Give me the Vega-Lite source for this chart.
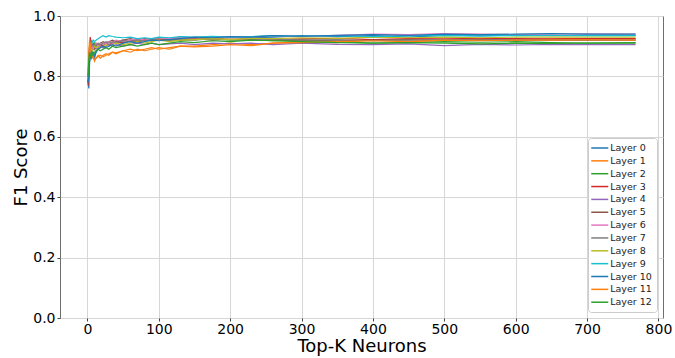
{
"$schema":"https://vega.github.io/schema/vega-lite/v6.json",
"width":603,"height":302,
"autosize":{"type":"none"},
"padding":{"left":60,"top":16,"right":12,"bottom":40},
"config":{"font":"DejaVu Sans","view":{"stroke":"#6e6e6e","strokeWidth":1},
"axis":{"labelFont":"DejaVu Sans","titleFont":"DejaVu Sans","labelFontSize":14,"titleFontSize":18,"titleFontWeight":"normal","labelColor":"#000","titleColor":"#000","gridColor":"#d6d6d6","gridWidth":1,"domain":false,"tickColor":"#444","tickSize":3}},
"data":{"values":[
{"l":0,"k":1,"f":0.79},{"l":0,"k":2,"f":0.76},{"l":0,"k":3,"f":0.84},{"l":0,"k":4,"f":0.88},{"l":0,"k":5,"f":0.86},{"l":0,"k":6,"f":0.89},{"l":0,"k":8,"f":0.87},{"l":0,"k":10,"f":0.86},{"l":0,"k":12,"f":0.88},{"l":0,"k":15,"f":0.89},{"l":0,"k":18,"f":0.9},{"l":0,"k":22,"f":0.895},{"l":0,"k":26,"f":0.9},{"l":0,"k":30,"f":0.905},{"l":0,"k":35,"f":0.91},{"l":0,"k":40,"f":0.915},{"l":0,"k":50,"f":0.91},{"l":0,"k":60,"f":0.92},{"l":0,"k":70,"f":0.915},{"l":0,"k":80,"f":0.92},{"l":0,"k":90,"f":0.925},{"l":0,"k":100,"f":0.92},{"l":0,"k":115,"f":0.925},{"l":0,"k":130,"f":0.93},{"l":0,"k":150,"f":0.928},{"l":0,"k":175,"f":0.93},{"l":0,"k":200,"f":0.932},{"l":0,"k":230,"f":0.928},{"l":0,"k":260,"f":0.93},{"l":0,"k":300,"f":0.935},{"l":0,"k":350,"f":0.932},{"l":0,"k":400,"f":0.935},{"l":0,"k":450,"f":0.93},{"l":0,"k":500,"f":0.936},{"l":0,"k":550,"f":0.934},{"l":0,"k":600,"f":0.937},{"l":0,"k":650,"f":0.935},{"l":0,"k":700,"f":0.936},{"l":0,"k":768,"f":0.936},
{"l":1,"k":1,"f":0.8},{"l":1,"k":2,"f":0.85},{"l":1,"k":3,"f":0.9},{"l":1,"k":4,"f":0.92},{"l":1,"k":5,"f":0.88},{"l":1,"k":6,"f":0.86},{"l":1,"k":8,"f":0.87},{"l":1,"k":10,"f":0.85},{"l":1,"k":12,"f":0.86},{"l":1,"k":15,"f":0.87},{"l":1,"k":18,"f":0.86},{"l":1,"k":22,"f":0.87},{"l":1,"k":26,"f":0.875},{"l":1,"k":30,"f":0.87},{"l":1,"k":35,"f":0.88},{"l":1,"k":40,"f":0.875},{"l":1,"k":50,"f":0.885},{"l":1,"k":60,"f":0.88},{"l":1,"k":70,"f":0.89},{"l":1,"k":80,"f":0.885},{"l":1,"k":90,"f":0.89},{"l":1,"k":100,"f":0.895},{"l":1,"k":115,"f":0.89},{"l":1,"k":130,"f":0.9},{"l":1,"k":150,"f":0.9},{"l":1,"k":175,"f":0.905},{"l":1,"k":200,"f":0.91},{"l":1,"k":230,"f":0.905},{"l":1,"k":260,"f":0.91},{"l":1,"k":300,"f":0.915},{"l":1,"k":350,"f":0.912},{"l":1,"k":400,"f":0.92},{"l":1,"k":450,"f":0.915},{"l":1,"k":500,"f":0.92},{"l":1,"k":550,"f":0.922},{"l":1,"k":600,"f":0.92},{"l":1,"k":650,"f":0.924},{"l":1,"k":700,"f":0.925},{"l":1,"k":768,"f":0.925},
{"l":2,"k":1,"f":0.78},{"l":2,"k":2,"f":0.82},{"l":2,"k":3,"f":0.88},{"l":2,"k":4,"f":0.91},{"l":2,"k":5,"f":0.9},{"l":2,"k":6,"f":0.89},{"l":2,"k":8,"f":0.9},{"l":2,"k":10,"f":0.91},{"l":2,"k":12,"f":0.9},{"l":2,"k":15,"f":0.905},{"l":2,"k":18,"f":0.91},{"l":2,"k":22,"f":0.9},{"l":2,"k":26,"f":0.91},{"l":2,"k":30,"f":0.915},{"l":2,"k":35,"f":0.91},{"l":2,"k":40,"f":0.915},{"l":2,"k":50,"f":0.92},{"l":2,"k":60,"f":0.915},{"l":2,"k":70,"f":0.92},{"l":2,"k":80,"f":0.918},{"l":2,"k":90,"f":0.922},{"l":2,"k":100,"f":0.92},{"l":2,"k":115,"f":0.925},{"l":2,"k":130,"f":0.92},{"l":2,"k":150,"f":0.922},{"l":2,"k":175,"f":0.925},{"l":2,"k":200,"f":0.92},{"l":2,"k":230,"f":0.922},{"l":2,"k":260,"f":0.918},{"l":2,"k":300,"f":0.92},{"l":2,"k":350,"f":0.915},{"l":2,"k":400,"f":0.91},{"l":2,"k":450,"f":0.912},{"l":2,"k":500,"f":0.915},{"l":2,"k":550,"f":0.913},{"l":2,"k":600,"f":0.915},{"l":2,"k":650,"f":0.912},{"l":2,"k":700,"f":0.91},{"l":2,"k":768,"f":0.912},
{"l":3,"k":1,"f":0.77},{"l":3,"k":2,"f":0.84},{"l":3,"k":3,"f":0.9},{"l":3,"k":4,"f":0.93},{"l":3,"k":5,"f":0.91},{"l":3,"k":6,"f":0.9},{"l":3,"k":8,"f":0.89},{"l":3,"k":10,"f":0.9},{"l":3,"k":12,"f":0.91},{"l":3,"k":15,"f":0.9},{"l":3,"k":18,"f":0.9},{"l":3,"k":22,"f":0.905},{"l":3,"k":26,"f":0.91},{"l":3,"k":30,"f":0.905},{"l":3,"k":35,"f":0.91},{"l":3,"k":40,"f":0.915},{"l":3,"k":50,"f":0.912},{"l":3,"k":60,"f":0.918},{"l":3,"k":70,"f":0.915},{"l":3,"k":80,"f":0.92},{"l":3,"k":90,"f":0.918},{"l":3,"k":100,"f":0.922},{"l":3,"k":115,"f":0.92},{"l":3,"k":130,"f":0.925},{"l":3,"k":150,"f":0.922},{"l":3,"k":175,"f":0.925},{"l":3,"k":200,"f":0.923},{"l":3,"k":230,"f":0.925},{"l":3,"k":260,"f":0.922},{"l":3,"k":300,"f":0.924},{"l":3,"k":350,"f":0.926},{"l":3,"k":400,"f":0.922},{"l":3,"k":450,"f":0.925},{"l":3,"k":500,"f":0.924},{"l":3,"k":550,"f":0.926},{"l":3,"k":600,"f":0.925},{"l":3,"k":650,"f":0.924},{"l":3,"k":700,"f":0.925},{"l":3,"k":768,"f":0.925},
{"l":4,"k":1,"f":0.8},{"l":4,"k":2,"f":0.83},{"l":4,"k":3,"f":0.87},{"l":4,"k":4,"f":0.9},{"l":4,"k":5,"f":0.89},{"l":4,"k":6,"f":0.88},{"l":4,"k":8,"f":0.89},{"l":4,"k":10,"f":0.9},{"l":4,"k":12,"f":0.89},{"l":4,"k":15,"f":0.895},{"l":4,"k":18,"f":0.9},{"l":4,"k":22,"f":0.895},{"l":4,"k":26,"f":0.9},{"l":4,"k":30,"f":0.905},{"l":4,"k":35,"f":0.9},{"l":4,"k":40,"f":0.905},{"l":4,"k":50,"f":0.9},{"l":4,"k":60,"f":0.905},{"l":4,"k":70,"f":0.91},{"l":4,"k":80,"f":0.905},{"l":4,"k":90,"f":0.91},{"l":4,"k":100,"f":0.905},{"l":4,"k":115,"f":0.908},{"l":4,"k":130,"f":0.91},{"l":4,"k":150,"f":0.905},{"l":4,"k":175,"f":0.91},{"l":4,"k":200,"f":0.908},{"l":4,"k":230,"f":0.91},{"l":4,"k":260,"f":0.905},{"l":4,"k":300,"f":0.91},{"l":4,"k":350,"f":0.906},{"l":4,"k":400,"f":0.905},{"l":4,"k":450,"f":0.908},{"l":4,"k":500,"f":0.902},{"l":4,"k":550,"f":0.906},{"l":4,"k":600,"f":0.904},{"l":4,"k":650,"f":0.906},{"l":4,"k":700,"f":0.905},{"l":4,"k":768,"f":0.905},
{"l":5,"k":1,"f":0.78},{"l":5,"k":2,"f":0.85},{"l":5,"k":3,"f":0.89},{"l":5,"k":4,"f":0.9},{"l":5,"k":5,"f":0.92},{"l":5,"k":6,"f":0.9},{"l":5,"k":8,"f":0.91},{"l":5,"k":10,"f":0.89},{"l":5,"k":12,"f":0.9},{"l":5,"k":15,"f":0.905},{"l":5,"k":18,"f":0.91},{"l":5,"k":22,"f":0.915},{"l":5,"k":26,"f":0.91},{"l":5,"k":30,"f":0.915},{"l":5,"k":35,"f":0.92},{"l":5,"k":40,"f":0.915},{"l":5,"k":50,"f":0.92},{"l":5,"k":60,"f":0.925},{"l":5,"k":70,"f":0.92},{"l":5,"k":80,"f":0.925},{"l":5,"k":90,"f":0.922},{"l":5,"k":100,"f":0.925},{"l":5,"k":115,"f":0.92},{"l":5,"k":130,"f":0.922},{"l":5,"k":150,"f":0.925},{"l":5,"k":175,"f":0.92},{"l":5,"k":200,"f":0.923},{"l":5,"k":230,"f":0.92},{"l":5,"k":260,"f":0.922},{"l":5,"k":300,"f":0.92},{"l":5,"k":350,"f":0.918},{"l":5,"k":400,"f":0.92},{"l":5,"k":450,"f":0.922},{"l":5,"k":500,"f":0.919},{"l":5,"k":550,"f":0.92},{"l":5,"k":600,"f":0.921},{"l":5,"k":650,"f":0.92},{"l":5,"k":700,"f":0.92},{"l":5,"k":768,"f":0.92},
{"l":6,"k":1,"f":0.79},{"l":6,"k":2,"f":0.83},{"l":6,"k":3,"f":0.88},{"l":6,"k":4,"f":0.9},{"l":6,"k":5,"f":0.91},{"l":6,"k":6,"f":0.89},{"l":6,"k":8,"f":0.9},{"l":6,"k":10,"f":0.9},{"l":6,"k":12,"f":0.91},{"l":6,"k":15,"f":0.9},{"l":6,"k":18,"f":0.91},{"l":6,"k":22,"f":0.905},{"l":6,"k":26,"f":0.91},{"l":6,"k":30,"f":0.915},{"l":6,"k":35,"f":0.91},{"l":6,"k":40,"f":0.92},{"l":6,"k":50,"f":0.915},{"l":6,"k":60,"f":0.92},{"l":6,"k":70,"f":0.925},{"l":6,"k":80,"f":0.92},{"l":6,"k":90,"f":0.925},{"l":6,"k":100,"f":0.928},{"l":6,"k":115,"f":0.925},{"l":6,"k":130,"f":0.93},{"l":6,"k":150,"f":0.928},{"l":6,"k":175,"f":0.93},{"l":6,"k":200,"f":0.932},{"l":6,"k":230,"f":0.93},{"l":6,"k":260,"f":0.935},{"l":6,"k":300,"f":0.932},{"l":6,"k":350,"f":0.936},{"l":6,"k":400,"f":0.94},{"l":6,"k":450,"f":0.938},{"l":6,"k":500,"f":0.942},{"l":6,"k":550,"f":0.94},{"l":6,"k":600,"f":0.938},{"l":6,"k":650,"f":0.94},{"l":6,"k":700,"f":0.941},{"l":6,"k":768,"f":0.94},
{"l":7,"k":1,"f":0.8},{"l":7,"k":2,"f":0.86},{"l":7,"k":3,"f":0.9},{"l":7,"k":4,"f":0.89},{"l":7,"k":5,"f":0.9},{"l":7,"k":6,"f":0.91},{"l":7,"k":8,"f":0.9},{"l":7,"k":10,"f":0.905},{"l":7,"k":12,"f":0.9},{"l":7,"k":15,"f":0.91},{"l":7,"k":18,"f":0.905},{"l":7,"k":22,"f":0.91},{"l":7,"k":26,"f":0.915},{"l":7,"k":30,"f":0.91},{"l":7,"k":35,"f":0.915},{"l":7,"k":40,"f":0.912},{"l":7,"k":50,"f":0.918},{"l":7,"k":60,"f":0.915},{"l":7,"k":70,"f":0.92},{"l":7,"k":80,"f":0.918},{"l":7,"k":90,"f":0.922},{"l":7,"k":100,"f":0.92},{"l":7,"k":115,"f":0.918},{"l":7,"k":130,"f":0.922},{"l":7,"k":150,"f":0.92},{"l":7,"k":175,"f":0.925},{"l":7,"k":200,"f":0.922},{"l":7,"k":230,"f":0.92},{"l":7,"k":260,"f":0.924},{"l":7,"k":300,"f":0.92},{"l":7,"k":350,"f":0.922},{"l":7,"k":400,"f":0.918},{"l":7,"k":450,"f":0.92},{"l":7,"k":500,"f":0.922},{"l":7,"k":550,"f":0.92},{"l":7,"k":600,"f":0.921},{"l":7,"k":650,"f":0.92},{"l":7,"k":700,"f":0.92},{"l":7,"k":768,"f":0.92},
{"l":8,"k":1,"f":0.81},{"l":8,"k":2,"f":0.85},{"l":8,"k":3,"f":0.88},{"l":8,"k":4,"f":0.9},{"l":8,"k":5,"f":0.89},{"l":8,"k":6,"f":0.88},{"l":8,"k":8,"f":0.89},{"l":8,"k":10,"f":0.9},{"l":8,"k":12,"f":0.895},{"l":8,"k":15,"f":0.9},{"l":8,"k":18,"f":0.895},{"l":8,"k":22,"f":0.9},{"l":8,"k":26,"f":0.905},{"l":8,"k":30,"f":0.9},{"l":8,"k":35,"f":0.905},{"l":8,"k":40,"f":0.91},{"l":8,"k":50,"f":0.905},{"l":8,"k":60,"f":0.91},{"l":8,"k":70,"f":0.915},{"l":8,"k":80,"f":0.91},{"l":8,"k":90,"f":0.915},{"l":8,"k":100,"f":0.92},{"l":8,"k":115,"f":0.915},{"l":8,"k":130,"f":0.92},{"l":8,"k":150,"f":0.922},{"l":8,"k":175,"f":0.925},{"l":8,"k":200,"f":0.922},{"l":8,"k":230,"f":0.926},{"l":8,"k":260,"f":0.925},{"l":8,"k":300,"f":0.928},{"l":8,"k":350,"f":0.926},{"l":8,"k":400,"f":0.93},{"l":8,"k":450,"f":0.928},{"l":8,"k":500,"f":0.93},{"l":8,"k":550,"f":0.928},{"l":8,"k":600,"f":0.93},{"l":8,"k":650,"f":0.93},{"l":8,"k":700,"f":0.93},{"l":8,"k":768,"f":0.93},
{"l":9,"k":1,"f":0.79},{"l":9,"k":2,"f":0.84},{"l":9,"k":3,"f":0.87},{"l":9,"k":4,"f":0.89},{"l":9,"k":5,"f":0.9},{"l":9,"k":6,"f":0.91},{"l":9,"k":8,"f":0.92},{"l":9,"k":10,"f":0.915},{"l":9,"k":12,"f":0.92},{"l":9,"k":15,"f":0.925},{"l":9,"k":18,"f":0.93},{"l":9,"k":22,"f":0.935},{"l":9,"k":26,"f":0.93},{"l":9,"k":30,"f":0.935},{"l":9,"k":35,"f":0.932},{"l":9,"k":40,"f":0.93},{"l":9,"k":50,"f":0.928},{"l":9,"k":60,"f":0.93},{"l":9,"k":70,"f":0.925},{"l":9,"k":80,"f":0.928},{"l":9,"k":90,"f":0.925},{"l":9,"k":100,"f":0.93},{"l":9,"k":115,"f":0.928},{"l":9,"k":130,"f":0.932},{"l":9,"k":150,"f":0.93},{"l":9,"k":175,"f":0.933},{"l":9,"k":200,"f":0.93},{"l":9,"k":230,"f":0.932},{"l":9,"k":260,"f":0.935},{"l":9,"k":300,"f":0.933},{"l":9,"k":350,"f":0.935},{"l":9,"k":400,"f":0.932},{"l":9,"k":450,"f":0.934},{"l":9,"k":500,"f":0.936},{"l":9,"k":550,"f":0.934},{"l":9,"k":600,"f":0.935},{"l":9,"k":650,"f":0.936},{"l":9,"k":700,"f":0.935},{"l":9,"k":768,"f":0.935},
{"l":10,"k":1,"f":0.78},{"l":10,"k":2,"f":0.8},{"l":10,"k":3,"f":0.85},{"l":10,"k":4,"f":0.86},{"l":10,"k":5,"f":0.87},{"l":10,"k":6,"f":0.86},{"l":10,"k":8,"f":0.88},{"l":10,"k":10,"f":0.87},{"l":10,"k":12,"f":0.88},{"l":10,"k":15,"f":0.89},{"l":10,"k":18,"f":0.895},{"l":10,"k":22,"f":0.9},{"l":10,"k":26,"f":0.895},{"l":10,"k":30,"f":0.9},{"l":10,"k":35,"f":0.905},{"l":10,"k":40,"f":0.9},{"l":10,"k":50,"f":0.91},{"l":10,"k":60,"f":0.915},{"l":10,"k":70,"f":0.91},{"l":10,"k":80,"f":0.915},{"l":10,"k":90,"f":0.92},{"l":10,"k":100,"f":0.918},{"l":10,"k":115,"f":0.922},{"l":10,"k":130,"f":0.925},{"l":10,"k":150,"f":0.93},{"l":10,"k":175,"f":0.928},{"l":10,"k":200,"f":0.932},{"l":10,"k":230,"f":0.93},{"l":10,"k":260,"f":0.935},{"l":10,"k":300,"f":0.933},{"l":10,"k":350,"f":0.936},{"l":10,"k":400,"f":0.938},{"l":10,"k":450,"f":0.936},{"l":10,"k":500,"f":0.94},{"l":10,"k":550,"f":0.938},{"l":10,"k":600,"f":0.94},{"l":10,"k":650,"f":0.942},{"l":10,"k":700,"f":0.94},{"l":10,"k":768,"f":0.94},
{"l":11,"k":1,"f":0.82},{"l":11,"k":2,"f":0.88},{"l":11,"k":3,"f":0.92},{"l":11,"k":4,"f":0.91},{"l":11,"k":5,"f":0.88},{"l":11,"k":6,"f":0.87},{"l":11,"k":8,"f":0.86},{"l":11,"k":10,"f":0.855},{"l":11,"k":12,"f":0.86},{"l":11,"k":15,"f":0.865},{"l":11,"k":18,"f":0.87},{"l":11,"k":22,"f":0.865},{"l":11,"k":26,"f":0.87},{"l":11,"k":30,"f":0.875},{"l":11,"k":35,"f":0.88},{"l":11,"k":40,"f":0.878},{"l":11,"k":50,"f":0.885},{"l":11,"k":60,"f":0.89},{"l":11,"k":70,"f":0.885},{"l":11,"k":80,"f":0.89},{"l":11,"k":90,"f":0.895},{"l":11,"k":100,"f":0.89},{"l":11,"k":115,"f":0.895},{"l":11,"k":130,"f":0.9},{"l":11,"k":150,"f":0.898},{"l":11,"k":175,"f":0.9},{"l":11,"k":200,"f":0.905},{"l":11,"k":230,"f":0.902},{"l":11,"k":260,"f":0.91},{"l":11,"k":300,"f":0.912},{"l":11,"k":350,"f":0.915},{"l":11,"k":400,"f":0.918},{"l":11,"k":450,"f":0.915},{"l":11,"k":500,"f":0.92},{"l":11,"k":550,"f":0.918},{"l":11,"k":600,"f":0.92},{"l":11,"k":650,"f":0.92},{"l":11,"k":700,"f":0.921},{"l":11,"k":768,"f":0.92},
{"l":12,"k":1,"f":0.8},{"l":12,"k":2,"f":0.86},{"l":12,"k":3,"f":0.88},{"l":12,"k":4,"f":0.87},{"l":12,"k":5,"f":0.86},{"l":12,"k":6,"f":0.88},{"l":12,"k":8,"f":0.87},{"l":12,"k":10,"f":0.88},{"l":12,"k":12,"f":0.885},{"l":12,"k":15,"f":0.89},{"l":12,"k":18,"f":0.885},{"l":12,"k":22,"f":0.89},{"l":12,"k":26,"f":0.895},{"l":12,"k":30,"f":0.89},{"l":12,"k":35,"f":0.9},{"l":12,"k":40,"f":0.895},{"l":12,"k":50,"f":0.9},{"l":12,"k":60,"f":0.905},{"l":12,"k":70,"f":0.9},{"l":12,"k":80,"f":0.905},{"l":12,"k":90,"f":0.91},{"l":12,"k":100,"f":0.905},{"l":12,"k":115,"f":0.91},{"l":12,"k":130,"f":0.915},{"l":12,"k":150,"f":0.912},{"l":12,"k":175,"f":0.918},{"l":12,"k":200,"f":0.915},{"l":12,"k":230,"f":0.92},{"l":12,"k":260,"f":0.918},{"l":12,"k":300,"f":0.915},{"l":12,"k":350,"f":0.912},{"l":12,"k":400,"f":0.91},{"l":12,"k":450,"f":0.912},{"l":12,"k":500,"f":0.91},{"l":12,"k":550,"f":0.908},{"l":12,"k":600,"f":0.91},{"l":12,"k":650,"f":0.909},{"l":12,"k":700,"f":0.91},{"l":12,"k":768,"f":0.91}
]},
"mark":{"type":"line","strokeWidth":1.2,"clip":true},
"encoding":{
"x":{"field":"k","type":"quantitative","title":"Top-K Neurons","scale":{"domain":[-38.4,806.4],"nice":false,"zero":false},"axis":{"values":[0,100,200,300,400,500,600,700,800],"titlePadding":1.5,"labelPadding":1}},
"y":{"field":"f","type":"quantitative","title":"F1 Score","scale":{"domain":[0,1],"nice":false},"axis":{"values":[0,0.2,0.4,0.6,0.8,1.0],"format":".1f","titlePadding":2,"labelPadding":2}},
"color":{"field":"l","type":"nominal","scale":{"domain":[0,1,2,3,4,5,6,7,8,9,10,11,12],"range":["#1f77b4","#ff7f0e","#2ca02c","#d62728","#9467bd","#8c564b","#e377c2","#7f7f7f","#bcbd22","#17becf","#1f77b4","#ff7f0e","#2ca02c"]},
"legend":{"title":null,"orient":"bottom-right","offset":6,"labelExpr":"'Layer ' + datum.label","symbolType":"M-1.89,0H1.89","symbolStrokeWidth":1.5,"symbolSize":81,"symbolOffset":1.75,"labelOffset":5,"labelFontSize":9.5,"labelFont":"DejaVu Sans","labelColor":"#222","rowPadding":2.85,"padding":4.5,"strokeColor":"#cccccc","fillColor":"#ffffff","cornerRadius":3}}
}
}
